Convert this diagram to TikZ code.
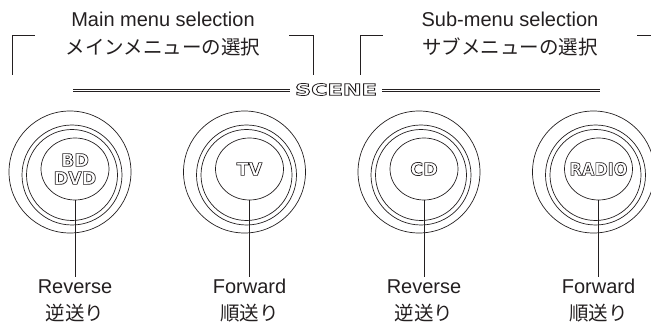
\documentclass[tikz,border=0pt]{standalone}
\usepackage{fontspec}
\setmainfont{Liberation Sans}
\newfontfamily\jpfont{Noto Sans CJK JP}
\newfontfamily\panelfont{DejaVu Sans}
\usetikzlibrary{shapes.geometric}
\definecolor{ink}{HTML}{231F20}
\newcommand\hollowtext[1]{\special{pdf:literal direct 1 Tr 0.7 w}#1\special{pdf:literal direct 0 Tr}}
\tikzset{
  lbl/.style={font=\fontsize{20}{24}\selectfont, text=ink, inner sep=0pt},
  jlbl/.style={font=\jpfont\fontsize{19.5}{24}\selectfont, text=ink, inner sep=0pt},
  ringline/.style={draw=ink, line width=0.7pt},
  keytext/.style={font=\panelfont\bfseries\fontsize{17.5}{19}\selectfont, text=ink, inner sep=0pt, align=center},
  bracketline/.style={draw=ink, line width=0.8pt},
  leadline/.style={draw=ink, line width=0.7pt},
  sline/.style={draw=ink, line width=0.6pt},
  keyface/.style={ellipse, draw=ink, line width=0.7pt, minimum width=68pt, minimum height=62pt, inner sep=0pt}
}
\begin{document}
\begin{tikzpicture}[x=1pt,y=-1pt]
\useasboundingbox (0,0) rectangle (651,326);
% titles
\node[lbl, anchor=base] (t1) at (163,26.7) {Main menu selection};
\node[jlbl] (t1j) at (163,47) {メインメニューの選択};
\node[lbl, anchor=base] (t2) at (510,26.7) {Sub-menu selection};
\node[jlbl] (t2j) at (510,47) {サブメニューの選択};
% brackets
\coordinate (b1a) at (12,75); \coordinate (b1b) at (12,35); \coordinate (b1c) at (35,35);
\coordinate (b2a) at (289,35); \coordinate (b2b) at (313,35); \coordinate (b2c) at (313,75);
\coordinate (b3a) at (360,75); \coordinate (b3b) at (360,35); \coordinate (b3c) at (383,35);
\coordinate (b4a) at (637,35); \coordinate (b4b) at (651,35);
\draw[bracketline] (b1a) -- (b1b) -- (b1c);
\draw[bracketline] (b2a) -- (b2b) -- (b2c);
\draw[bracketline] (b3a) -- (b3b) -- (b3c);
\draw[bracketline] (b4a) -- (b4b);
% SCENE rule (two thin parallel lines each side)
\coordinate (sl1) at (73,88.9);  \coordinate (sl2) at (290,88.9);
\coordinate (sl3) at (73,91.1);  \coordinate (sl4) at (290,91.1);
\coordinate (sr1) at (382,88.9); \coordinate (sr2) at (600,88.9);
\coordinate (sr3) at (382,91.1); \coordinate (sr4) at (600,91.1);
\draw[sline] (sl1) -- (sl2);
\draw[sline] (sl3) -- (sl4);
\draw[sline] (sr1) -- (sr2);
\draw[sline] (sr3) -- (sr4);
\node[keytext, font=\panelfont\bfseries\fontsize{16}{19}\selectfont, xscale=1.4] (scene) at (336,89.5) {\hollowtext{SCENE}};
% keys
\foreach \i/\cx/\en/\jp in {1/75/Reverse/逆送り, 2/249.5/Forward/順送り, 3/424/Reverse/逆送り, 4/598.5/Forward/順送り}{
  \draw[ringline] (\cx-5,172) circle[radius=61];
  \draw[ringline] (\cx-3,175) circle[radius=50];
  \draw[ringline] (\cx-3,175) circle[radius=45.5];
  \node[keyface] (k\i) at (\cx,169) {};
  \coordinate (e\i) at (\cx,277);
  \draw[leadline] (k\i.south) -- (e\i);
  \node[lbl, anchor=base] (en\i) at (\cx,293.5) {\en};
  \node[jlbl] (jp\i) at (\cx,313) {\jp};
}
\node[keytext] (n1) at (k1) {\hollowtext{BD}\\[-1pt]\hollowtext{DVD}};
\node[keytext] (n2) at (k2) {\hollowtext{TV}};
\node[keytext] (n3) at (k3) {\hollowtext{CD}};
\node[keytext, xscale=0.92] (n4) at (k4) {\hollowtext{RADIO}};
\end{tikzpicture}
\end{document}
